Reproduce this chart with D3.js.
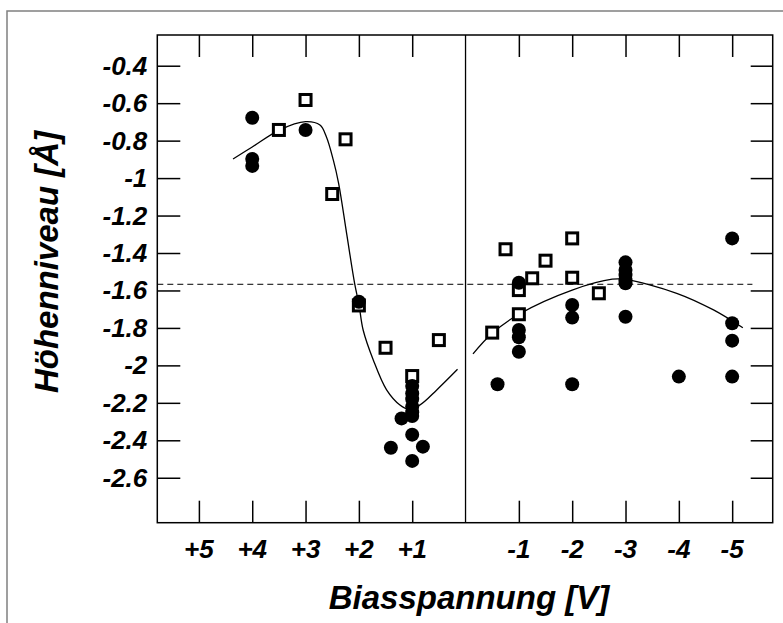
<!DOCTYPE html>
<html><head><meta charset="utf-8">
<script src="https://cdn.jsdelivr.net/npm/d3@7"></script>
<style>body{margin:0;background:#fff}svg{display:block}</style>
</head><body>
<svg id="c" width="783" height="623"></svg>
<script>
// bias voltages (V) and heights (Å)
const circleBias = [4,4,4,3,2,1,1,1,1,1,1,1,1,1.2,1.4,0.8,
  -0.6,-1,-1,-1,-1,-2,-2,-2,-3,-3,-3,-3,-3,-3,-4,-5,-5,-5,-5];
const circleHeight = [-0.678,-0.898,-0.935,-0.743,-1.66,-2.11,-2.15,-2.18,-2.22,-2.27,-2.37,-2.51,-2.25,-2.283,-2.44,-2.434,
  -2.101,-1.559,-1.811,-1.850,-1.927,-1.678,-1.745,-2.101,-1.450,-1.491,-1.518,-1.545,-1.562,-1.740,-2.06,-1.322,-1.775,-1.868,-2.060];
const squareBias = [3.5,3,2.25,2.5,2,1.5,0.5,1,
  -0.75,-1.5,-1.25,-1,-1,-0.5,-2,-2,-2.5];
const squareHeight = [-0.743,-0.583,-0.793,-1.085,-1.68,-1.906,-1.865,-2.057,
  -1.380,-1.441,-1.535,-1.598,-1.727,-1.825,-1.322,-1.532,-1.615];
// fitted curves
const fitLeftBias = [4.36,4.0,3.5,3.0,2.73,2.61,2.48,2.38,2.23,2.08,2.0,1.92,1.73,1.48,1.23,1.08,0.86,0.54,0.15];
const fitLeftHeight = [-0.898,-0.834,-0.745,-0.699,-0.717,-0.779,-0.903,-1.028,-1.295,-1.562,-1.672,-1.811,-1.971,-2.131,-2.212,-2.233,-2.212,-2.131,-2.021];
const fitRightBias = [-0.14,-0.5,-1.0,-2.0,-2.75,-3.0,-3.96,-4.65,-5.2];
const fitRightHeight = [-1.939,-1.829,-1.727,-1.598,-1.54,-1.541,-1.615,-1.704,-1.799];
const refLevel = -1.567;
const xTickValues = [5,4,3,2,1,-1,-2,-3,-4,-5];
const xTickLabels = ["+5","+4","+3","+2","+1","-1","-2","-3","-4","-5"];
const yTickValues = [-0.4,-0.6,-0.8,-1,-1.2,-1.4,-1.6,-1.8,-2,-2.2,-2.4,-2.6];

const svg = d3.select("#c");
const L = 157.3, R = 772.7, T = 35, B = 522.7;
// x position follows -bias (positive bias on the left)
const x = d3.scaleLinear().domain([5.78, -5.76]).range([L, R]);
const y = d3.scaleLinear().domain([-0.236, -2.84]).range([T, B]);

svg.append("rect").attr("x",7).attr("y",11).attr("width",820).attr("height",700)
  .attr("fill","none").attr("stroke","#808080").attr("stroke-width",1.5);

const font = "'Liberation Sans', Arial, sans-serif";
const g = svg.append("g");

// axes with inside ticks
const tickLen = 22;
const axB = d3.axisBottom(x).tickValues(xTickValues).tickSize(-tickLen).tickFormat("");
const axT = d3.axisTop(x).tickValues(xTickValues).tickSize(-tickLen).tickFormat("");
const axL = d3.axisLeft(y).tickValues(yTickValues).tickSize(-23).tickFormat("");
const axR = d3.axisRight(y).tickValues(yTickValues).tickSize(-22).tickFormat("");
[[axB,`translate(0,${B})`],[axT,`translate(0,${T})`],[axL,`translate(${L},0)`],[axR,`translate(${R},0)`]].forEach(([a,t])=>{
  const ga = g.append("g").attr("transform",t).call(a);
  ga.select(".domain").remove();
  ga.selectAll("line").attr("stroke","#000").attr("stroke-width",1.5);
});
g.append("rect").attr("x",L).attr("y",T).attr("width",R-L).attr("height",B-T)
  .attr("fill","none").attr("stroke","#000").attr("stroke-width",1.5);
g.append("line").attr("x1",x(0)).attr("x2",x(0)).attr("y1",T).attr("y2",B)
  .attr("stroke","#000").attr("stroke-width",1.3);

// x tick labels
g.selectAll(".xl").data(xTickValues).enter().append("text")
  .attr("x",(d)=>x(d)).attr("y",B+35).attr("text-anchor","middle")
  .attr("font-family",font).attr("font-weight","bold").attr("font-style","italic").attr("font-size",26)
  .text((d,i)=>xTickLabels[i]);
// y tick labels
g.selectAll(".yl").data(yTickValues).enter().append("text")
  .attr("x",L-10).attr("y",(d)=>y(d)+9).attr("text-anchor","end")
  .attr("font-family",font).attr("font-weight","bold").attr("font-style","italic").attr("font-size",26)
  .text((d)=>d3.format("")(d).replace("−","-"));

// dashed reference
g.append("line").attr("x1",x(5.78)).attr("x2",x(-5.38)).attr("y1",y(refLevel)).attr("y2",y(refLevel))
  .attr("stroke","#000").attr("stroke-width",1).attr("stroke-dasharray","6,4");

// fitted curves
const line = d3.line().x(d=>x(d[0])).y(d=>y(d[1])).curve(d3.curveCatmullRom);
g.append("path").attr("d",line(d3.zip(fitLeftBias,fitLeftHeight))).attr("fill","none").attr("stroke","#000").attr("stroke-width",1.3);
g.append("path").attr("d",line(d3.zip(fitRightBias,fitRightHeight))).attr("fill","none").attr("stroke","#000").attr("stroke-width",1.3);

// squares
const s = 11;
g.selectAll(".sq").data(d3.zip(squareBias,squareHeight)).enter().append("rect")
  .attr("x",d=>x(d[0])-s/2).attr("y",d=>y(d[1])-s/2).attr("width",s).attr("height",s)
  .attr("fill","#fff").attr("stroke","#000").attr("stroke-width",3);
// circles
g.selectAll(".ci").data(d3.zip(circleBias,circleHeight)).enter().append("circle")
  .attr("cx",d=>x(d[0])).attr("cy",d=>y(d[1])).attr("r",7).attr("fill","#000");

// axis titles
svg.append("text").attr("x",(L+R)/2 + 4).attr("y",609).attr("text-anchor","middle")
  .attr("font-family",font).attr("font-weight","bold").attr("font-style","italic").attr("font-size",33)
  .text("Biasspannung [V]");
svg.append("text").attr("transform",`translate(58,262) rotate(-90)`).attr("text-anchor","middle")
  .attr("font-family",font).attr("font-weight","bold").attr("font-style","italic").attr("font-size",33)
  .text("Höhenniveau [Å]");
</script>
</body></html>
